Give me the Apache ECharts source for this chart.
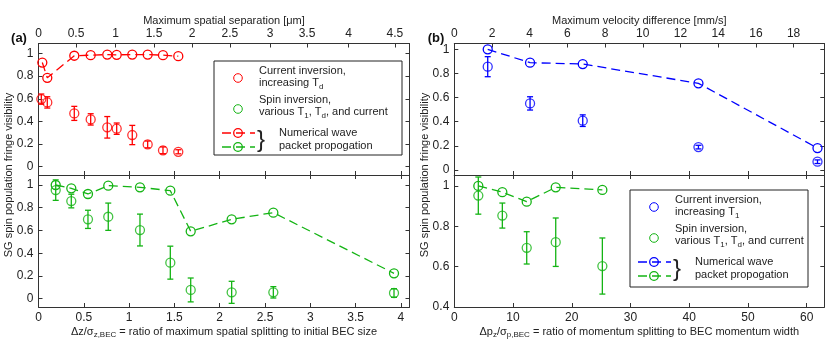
<!DOCTYPE html>
<html>
<head>
<meta charset="utf-8">
<script src="https://cdn.jsdelivr.net/npm/echarts@6/dist/echarts.min.js"></script>
<style>
  html, body { margin: 0; padding: 0; background: #fff; }
  #chart { width: 830px; height: 362px; }
</style>
</head>
<body>
<div id="chart"></div>
<script>
// ---- panel (a): ratio of spatial splitting to BEC size ----
var aRedSimX = [0.042, 0.097, 0.395, 0.576, 0.759, 0.863, 1.035, 1.205, 1.374, 1.543];
var aRedSimY = [0.92, 0.785, 0.98, 0.985, 0.99, 0.988, 0.99, 0.99, 0.985, 0.976];
var aRedExpX = [0.031, 0.097, 0.395, 0.576, 0.759, 0.863, 1.035, 1.205, 1.374, 1.543];
var aRedExpY = [0.597, 0.568, 0.471, 0.418, 0.348, 0.336, 0.28, 0.197, 0.145, 0.132];
var aRedExpErr = [0.045, 0.05, 0.062, 0.05, 0.095, 0.05, 0.085, 0.03, 0.03, 0.018];

var aGreenSimX = [0.19, 0.362, 0.546, 0.77, 1.12, 1.455, 1.68, 2.132, 2.592, 3.924];
var aGreenSimY = [1.0, 0.971, 0.921, 0.994, 0.98, 0.95, 0.593, 0.698, 0.757, 0.223];
var aGreenExpX = [0.19, 0.362, 0.546, 0.77, 1.12, 1.455, 1.68, 2.132, 2.592, 3.924];
var aGreenExpY = [0.955, 0.859, 0.698, 0.721, 0.604, 0.317, 0.077, 0.056, 0.056, 0.05];
var aGreenExpErr = [0.09, 0.06, 0.08, 0.12, 0.14, 0.145, 0.105, 0.097, 0.05, 0.038];

// top axis of (a): separation in um, placed at these ratio positions
var aTopTickPos = [0, 0.414, 0.852, 1.275, 1.694, 2.113, 2.555, 2.964, 3.422, 3.934];
var aTopTickLabels = ['0', '0.5', '1', '1.5', '2', '2.5', '3', '3.5', '4', '4.5'];

// ---- panel (b): ratio of momentum splitting to BEC momentum width ----
var bBlueSimX = [5.69, 12.9, 21.87, 41.57, 61.84];
var bBlueSimY = [1.0, 0.889, 0.878, 0.718, 0.182];
var bBlueExpX = [5.69, 12.9, 21.87, 41.57, 61.84];
var bBlueExpY = [0.856, 0.552, 0.409, 0.19, 0.069];
var bBlueExpErr = [0.083, 0.055, 0.048, 0.015, 0.015];

var bGreenSimX = [4.09, 8.18, 12.33, 17.27, 25.21];
var bGreenSimY = [1.0, 0.969, 0.922, 0.993, 0.98];
var bGreenExpX = [4.09, 8.18, 12.33, 17.27, 25.21];
var bGreenExpY = [0.952, 0.853, 0.693, 0.721, 0.603];
var bGreenExpErr = [0.092, 0.062, 0.08, 0.12, 0.139];

var yTicksFull = [0, 0.2, 0.4, 0.6, 0.8, 1];
var yTicksB2 = [0.4, 0.6, 0.8, 1];

var RED = '#ff0000', GREEN = '#14b414', BLUE = '#0000ff';
var FONT = 'Liberation Sans';
var AX = '#333';

function zip(xs, ys) { return xs.map(function (x, i) { return [x, ys[i]]; }); }
function errData(xs, ys, es) { return xs.map(function (x, i) { return [x, ys[i] - es[i], ys[i] + es[i]]; }); }

function baseAxis(extra) {
  var a = {
    type: 'value',
    axisLine: { show: true, onZero: false, lineStyle: { color: AX, width: 1 } },
    axisTick: { show: true, inside: true, length: 4, lineStyle: { color: AX } },
    axisLabel: { show: false, color: '#222', fontFamily: FONT, fontSize: 12 },
    splitLine: { show: false }
  };
  for (var k in extra) a[k] = extra[k];
  return a;
}
function lbl(margin, more) {
  var l = { show: true, color: '#222', fontFamily: FONT, fontSize: 12, margin: margin, showMaxLabel: false };
  for (var k in more) l[k] = more[k];
  return l;
}

var sub = { fontSize: 8, fontFamily: FONT, color: '#222', padding: [7, 0, 0, 0] };
var nrm = { fontSize: 11, fontFamily: FONT, color: '#222' };

var grids = [
  { left: 38.5, top: 43.5, width: 371, height: 131.5 },
  { left: 38.5, top: 175, width: 371, height: 132 },
  { left: 454.3, top: 43.5, width: 370, height: 131.5 },
  { left: 454.3, top: 175, width: 370, height: 132 }
];

var xAxes = [
  baseAxis({ gridIndex: 0, position: 'bottom', min: 0, max: 4.095, interval: 0.5 }),
  baseAxis({
    gridIndex: 0, position: 'top', min: 0, max: 4.095,
    axisTick: { show: true, inside: true, length: 4, lineStyle: { color: AX }, customValues: aTopTickPos },
    axisLabel: lbl(4, {
      customValues: aTopTickPos, showMaxLabel: true,
      formatter: function (v) {
        var best = 0;
        for (var i = 0; i < aTopTickPos.length; i++) if (Math.abs(aTopTickPos[i] - v) < Math.abs(aTopTickPos[best] - v)) best = i;
        return aTopTickLabels[best];
      }
    }),
    name: 'Maximum spatial separation [μm]', nameLocation: 'middle', nameGap: 17,
    nameTextStyle: nrm
  }),
  baseAxis({
    gridIndex: 1, position: 'bottom', min: 0, max: 4.095, interval: 0.5,
    axisLabel: lbl(5),
    name: '{n|Δz/σ}{s|z,BEC}{n| = ratio of maximum spatial splitting to initial BEC size}',
    nameLocation: 'middle', nameGap: 17,
    nameTextStyle: { rich: { n: nrm, s: sub } }
  }),
  baseAxis({ gridIndex: 1, position: 'top', min: 0, max: 4.095, interval: 0.5 }),
  baseAxis({ gridIndex: 2, position: 'bottom', min: 0, max: 63, interval: 10 }),
  baseAxis({
    gridIndex: 2, position: 'top', min: 0, max: 19.63, interval: 2,
    axisLabel: lbl(4),
    name: 'Maximum velocity difference [mm/s]', nameLocation: 'middle', nameGap: 17,
    nameTextStyle: nrm
  }),
  baseAxis({
    gridIndex: 3, position: 'bottom', min: 0, max: 63, interval: 10,
    axisLabel: lbl(5),
    name: '{n|Δp}{s|z}{n|/σ}{s|p,BEC}{n| = ratio of momentum splitting to BEC momentum width}',
    nameLocation: 'middle', nameGap: 17,
    nameTextStyle: { rich: { n: nrm, s: sub } }
  }),
  baseAxis({ gridIndex: 3, position: 'top', min: 0, max: 63, interval: 10 })
];

function yPair(gi, min, max, ticks) {
  var tick = { show: true, inside: true, length: 4, lineStyle: { color: AX }, customValues: ticks };
  return [
    baseAxis({ gridIndex: gi, position: 'left', min: min, max: max, axisTick: tick,
      axisLabel: lbl(5, { customValues: ticks, showMaxLabel: true }) }),
    baseAxis({ gridIndex: gi, position: 'right', min: min, max: max, axisTick: tick })
  ];
}
var yAxes = [].concat(
  yPair(0, -0.073, 1.088, yTicksFull),
  yPair(1, -0.073, 1.088, yTicksFull),
  yPair(2, -0.041, 1.048, yTicksFull),
  yPair(3, 0.4, 1.054, yTicksB2)
);

function simLine(xs, ys, color, xi, yi) {
  return {
    type: 'line', xAxisIndex: xi, yAxisIndex: yi, data: zip(xs, ys),
    symbol: 'circle', symbolSize: 9, showSymbol: true,
    itemStyle: { color: 'transparent', borderColor: color, borderWidth: 1.3 },
    lineStyle: { color: color, width: 1.3, type: [9, 5] },
    animation: false, z: 3
  };
}
function expPoints(xs, ys, color, xi, yi) {
  return {
    type: 'scatter', xAxisIndex: xi, yAxisIndex: yi, data: zip(xs, ys),
    symbol: 'circle', symbolSize: 9,
    itemStyle: { color: 'transparent', borderColor: color, borderWidth: 1.3 },
    animation: false, z: 3
  };
}
function errBars(xs, ys, es, color, xi, yi) {
  return {
    type: 'custom', xAxisIndex: xi, yAxisIndex: yi, data: errData(xs, ys, es),
    encode: { x: 0, y: [1, 2] }, animation: false, z: 2,
    renderItem: function (params, api) {
      var x = api.value(0);
      var lo = api.coord([x, api.value(1)]);
      var hi = api.coord([x, api.value(2)]);
      var w = 3;
      var st = { stroke: color, lineWidth: 1.3 };
      return {
        type: 'group',
        children: [
          { type: 'line', shape: { x1: lo[0], y1: lo[1], x2: hi[0], y2: hi[1] }, style: st },
          { type: 'line', shape: { x1: lo[0] - w, y1: lo[1], x2: lo[0] + w, y2: lo[1] }, style: st },
          { type: 'line', shape: { x1: hi[0] - w, y1: hi[1], x2: hi[0] + w, y2: hi[1] }, style: st }
        ]
      };
    }
  };
}

var series = [
  simLine(aRedSimX, aRedSimY, RED, 0, 0),
  errBars(aRedExpX, aRedExpY, aRedExpErr, RED, 0, 0),
  expPoints(aRedExpX, aRedExpY, RED, 0, 0),
  simLine(aGreenSimX, aGreenSimY, GREEN, 2, 2),
  errBars(aGreenExpX, aGreenExpY, aGreenExpErr, GREEN, 2, 2),
  expPoints(aGreenExpX, aGreenExpY, GREEN, 2, 2),
  simLine(bBlueSimX, bBlueSimY, BLUE, 4, 4),
  errBars(bBlueExpX, bBlueExpY, bBlueExpErr, BLUE, 4, 4),
  expPoints(bBlueExpX, bBlueExpY, BLUE, 4, 4),
  simLine(bGreenSimX, bGreenSimY, GREEN, 6, 6),
  errBars(bGreenExpX, bGreenExpY, bGreenExpErr, GREEN, 6, 6),
  expPoints(bGreenExpX, bGreenExpY, GREEN, 6, 6)
];

// legend boxes drawn by hand, MATLAB style
function legendBox(x0, y0, w, h, c1, sub1) {
  var tx = x0 + 45, cx = x0 + 24;
  function t(x, y, s, rich) {
    var st = { text: s, x: x, y: y, align: 'left', verticalAlign: 'middle', font: '11px ' + FONT, fill: '#222' };
    if (rich) st.rich = rich;
    return { type: 'text', style: st };
  }
  var rich = { n: { fontSize: 11, fontFamily: FONT, fill: '#222' }, s: { fontSize: 8, fontFamily: FONT, fill: '#222', padding: [7, 0, 0, 0] } };
  function dashRow(y, col) {
    return [
      { type: 'line', shape: { x1: x0 + 8, y1: y, x2: x0 + 41, y2: y }, style: { stroke: col, lineWidth: 1.3, lineDash: [9, 5] } },
      { type: 'circle', shape: { cx: cx, cy: y, r: 4.3 }, style: { fill: 'none', stroke: col, lineWidth: 1.3 } }
    ];
  }
  return [
    { type: 'rect', shape: { x: x0, y: y0, width: w, height: h }, style: { fill: '#fff', stroke: '#222', lineWidth: 1 }, z: 10 },
    { type: 'circle', shape: { cx: cx, cy: y0 + 17, r: 4.3 }, style: { fill: 'none', stroke: c1, lineWidth: 1 }, z: 11 },
    t(tx, y0 + 10, 'Current inversion,'),
    t(tx, y0 + 22, '{n|increasing T}{s|' + sub1 + '}', rich),
    { type: 'circle', shape: { cx: cx, cy: y0 + 48, r: 4.3 }, style: { fill: 'none', stroke: GREEN, lineWidth: 1 }, z: 11 },
    t(tx, y0 + 39, 'Spin inversion,'),
    t(tx, y0 + 51, '{n|various T}{s|1}{n|, T}{s|d}{n|, and current}', rich),
    { type: 'text', style: { text: '}', x: x0 + 43, y: y0 + 79, align: 'left', verticalAlign: 'middle', font: '24px ' + FONT, fill: '#222' } }
  ].concat(dashRow(y0 + 72, c1), dashRow(y0 + 86, GREEN), [
    t(x0 + 65, y0 + 72, 'Numerical wave'),
    t(x0 + 65, y0 + 85, 'packet propogation')
  ]);
}

var graphics = [].concat(
  legendBox(214, 61, 188, 94, RED, 'd'),
  legendBox(630, 190, 178, 97, BLUE, '1'),
  [
    { type: 'text', style: { text: '(a)', x: 19, y: 38, align: 'center', verticalAlign: 'middle', font: 'bold 13px ' + FONT, fill: '#111' } },
    { type: 'text', style: { text: '(b)', x: 436, y: 38, align: 'center', verticalAlign: 'middle', font: 'bold 13px ' + FONT, fill: '#111' } },
    { type: 'text', x: 9, y: 175, rotation: Math.PI / 2, style: { text: 'SG spin population fringe visibility', x: 0, y: 0, align: 'center', verticalAlign: 'middle', font: '11px ' + FONT, fill: '#222' } },
    { type: 'text', x: 425, y: 175, rotation: Math.PI / 2, style: { text: 'SG spin population fringe visibility', x: 0, y: 0, align: 'center', verticalAlign: 'middle', font: '11px ' + FONT, fill: '#222' } }
  ]
);
graphics.forEach(function (g) { if (g.z === undefined) g.z = 11; });

var chart = echarts.init(document.getElementById('chart'), null, { renderer: 'canvas' });
chart.setOption({
  backgroundColor: '#ffffff',
  animation: false,
  grid: grids,
  xAxis: xAxes,
  yAxis: yAxes,
  series: series,
  graphic: graphics
});
</script>
</body>
</html>
